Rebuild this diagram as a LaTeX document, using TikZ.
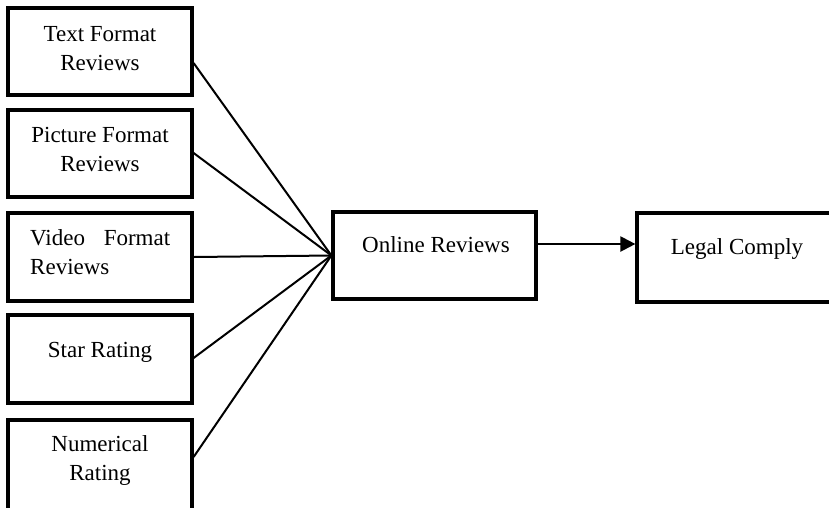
\documentclass[tikz,border=0pt]{standalone}
\usepackage{fontspec}
\setmainfont{Liberation Serif}
\usetikzlibrary{arrows.meta}
\tikzset{
  box/.style={draw=black, line width=3.2pt, rectangle, inner sep=0pt},
  lbl/.style={inner sep=0pt, align=center, anchor=base, font=\fontsize{23}{29}\selectfont},
  conn/.style={draw=black, line width=2pt},
  arr/.style={draw=black, line width=2.2pt, -{Triangle[length=15pt,width=15pt]}}
}
\begin{document}
\begin{tikzpicture}[x=1pt,y=-1pt]
\useasboundingbox (0,0) rectangle (829,507);
\clip (0,0) rectangle (829,507);
% boxes
\node[box, minimum width=184pt, minimum height=87pt] (b1) at (100,51.5) {};
\node[box, minimum width=184pt, minimum height=87pt] (b2) at (100,153.5) {};
\node[box, minimum width=184pt, minimum height=88pt] (b3) at (100,257) {};
\node[box, minimum width=184pt, minimum height=88pt] (b4) at (100,359) {};
\node[box, minimum width=184pt, minimum height=96pt] (b5) at (100,468) {};
\node[box, minimum width=203pt, minimum height=87pt] (on) at (434.5,255.5) {};
\node[box, minimum width=200pt, minimum height=89pt] (lc) at (737,257.5) {};
% labels (two-line nodes: base anchor = baseline of last line)
\node[lbl] (t1) at (100,70) {Text Format\\Reviews};
\node[lbl] (t2) at (100,171) {Picture Format\\Reviews};
\node[lbl, anchor=base west, text width=140pt, align=left] (t3) at (30,245) {\hbox to 140pt{Video\hfill Format}\\Reviews};
\node[lbl] (t4) at (100,357) {Star Rating};
\node[lbl] (t5) at (100,480) {Numerical\\Rating};
\node[lbl] (t6) at (436,252) {Online Reviews};
\node[lbl] (t7) at (737,254) {Legal Comply};
% connectors
\draw[conn] (b1.east |- 0,63) -- (on.west);
\draw[conn] (b2.east |- 0,153) -- (on.west);
\draw[conn] (b3.east |- 0,257) -- (on.west);
\draw[conn] (b4.east |- 0,358) -- (on.west);
\draw[conn] (b5.east |- 0,457) -- (on.west);
\draw[arr] (on.east |- 0,244) -- (lc.west |- 0,244);
\end{tikzpicture}
\end{document}
